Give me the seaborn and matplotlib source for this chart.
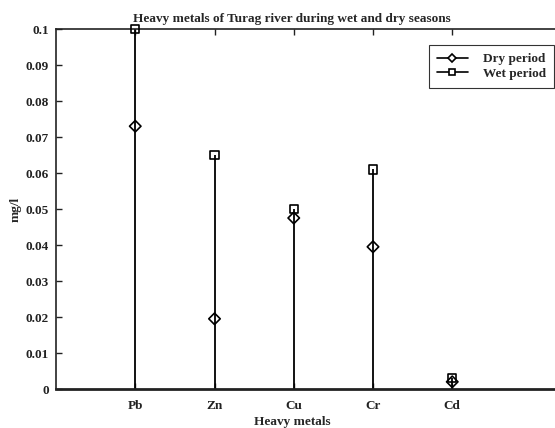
import matplotlib
matplotlib.use("Agg")
import matplotlib.pyplot as plt
import seaborn as sns
import pandas as pd
from matplotlib.lines import Line2D
from matplotlib.legend_handler import HandlerLine2D

metals = ["Pb", "Zn", "Cu", "Cr", "Cd"]
dry = [0.073, 0.0195, 0.0475, 0.0395, 0.002]
wet = [0.100, 0.065, 0.050, 0.061, 0.003]
yticks = [0, 0.01, 0.02, 0.03, 0.04, 0.05, 0.06, 0.07, 0.08, 0.09, 0.1]
ytick_labels = ["0", "0.01", "0.02", "0.03", "0.04", "0.05", "0.06", "0.07", "0.08", "0.09", "0.1"]

sns.set_style("white")
plt.rcParams["font.family"] = ["Liberation Serif", "DejaVu Serif"]
plt.rcParams["font.weight"] = "bold"

pos = list(range(1, len(metals) + 1))
df = pd.DataFrame({"pos": pos * 2,
                   "value": dry + wet,
                   "period": ["Dry period"] * len(metals) + ["Wet period"] * len(metals)})

W, H = 555, 428
fig = plt.figure(figsize=(W / 100, H / 100), dpi=100)
ax_left, ax_right, ax_top, ax_bot = 56, 557, 29, 389
ax = fig.add_axes([ax_left / W, (H - ax_bot) / H, (ax_right - ax_left) / W, (ax_bot - ax_top) / H])

tops = [max(d, w) for d, w in zip(dry, wet)]
ax.vlines(pos, 0, tops, color="black", linewidth=1.3, zorder=2)

sns.scatterplot(data=df[df.period == "Dry period"], x="pos", y="value", marker="D",
                s=34, facecolor="none", edgecolor="black", linewidth=1.2, ax=ax,
                zorder=3, legend=False)
sns.scatterplot(data=df[df.period == "Wet period"], x="pos", y="value", marker="s",
                s=36, facecolor="none", edgecolor="black", linewidth=1.2, ax=ax,
                zorder=3, legend=False, clip_on=False)

ax.set_xlim(0, (ax_right - ax_left) / 79.25)
ax.set_ylim(0, 0.1)
ax.set_xticks(pos)
ax.set_xticklabels(metals)
ax.set_yticks(yticks)
ax.set_yticklabels(ytick_labels)
ax.tick_params(axis="both", direction="in", labelsize=9.5, length=4, width=1, colors="#222222",
               top=True, right=False, left=True, bottom=True)
ax.tick_params(axis="x", pad=8)
ax.tick_params(axis="y", pad=5)
for s in ["left", "bottom", "top"]:
    ax.spines[s].set_linewidth(1.2)
    ax.spines[s].set_color("#222222")
ax.spines["right"].set_visible(False)
ax.spines["bottom"].set_linewidth(2)

center_x = (292 - ax_left) / (ax_right - ax_left)
ax.set_xlabel("Heavy metals", fontsize=9.5, fontweight="bold")
ax.xaxis.set_label_coords(center_x, -(416 - ax_bot) / (ax_bot - ax_top))
ax.set_ylabel("mg/l", fontsize=9.5, fontweight="bold", labelpad=3)
ax.set_title("Heavy metals of Turag river during wet and dry seasons",
             fontsize=9.5, fontweight="bold", pad=5, x=center_x)


class EndMarkerHandler(HandlerLine2D):
    def get_xdata(self, legend, xdescent, ydescent, width, height, fontsize):
        xdata = [-xdescent, -xdescent + width]
        return xdata, [-xdescent + width]


h1 = Line2D([], [], color="black", linewidth=1.2, marker="D", markersize=4.5,
            markerfacecolor="white", markeredgecolor="black", markeredgewidth=1.2)
h2 = Line2D([], [], color="black", linewidth=1.2, marker="s", markersize=4.5,
            markerfacecolor="white", markeredgecolor="black", markeredgewidth=1.2)
leg = ax.legend([h1, h2], ["Dry period", "Wet period"], loc="upper right",
                bbox_to_anchor=(554 / W, (H - 45) / H), bbox_transform=fig.transFigure,
                handler_map={Line2D: EndMarkerHandler(numpoints=1)},
                fontsize=9.5, frameon=True, fancybox=False, edgecolor="black",
                handlelength=2.35, handletextpad=1.15, borderpad=0.6, labelspacing=0.2,
                borderaxespad=0)
leg.get_frame().set_linewidth(0.8)

fig.savefig("out.png", dpi=100)
